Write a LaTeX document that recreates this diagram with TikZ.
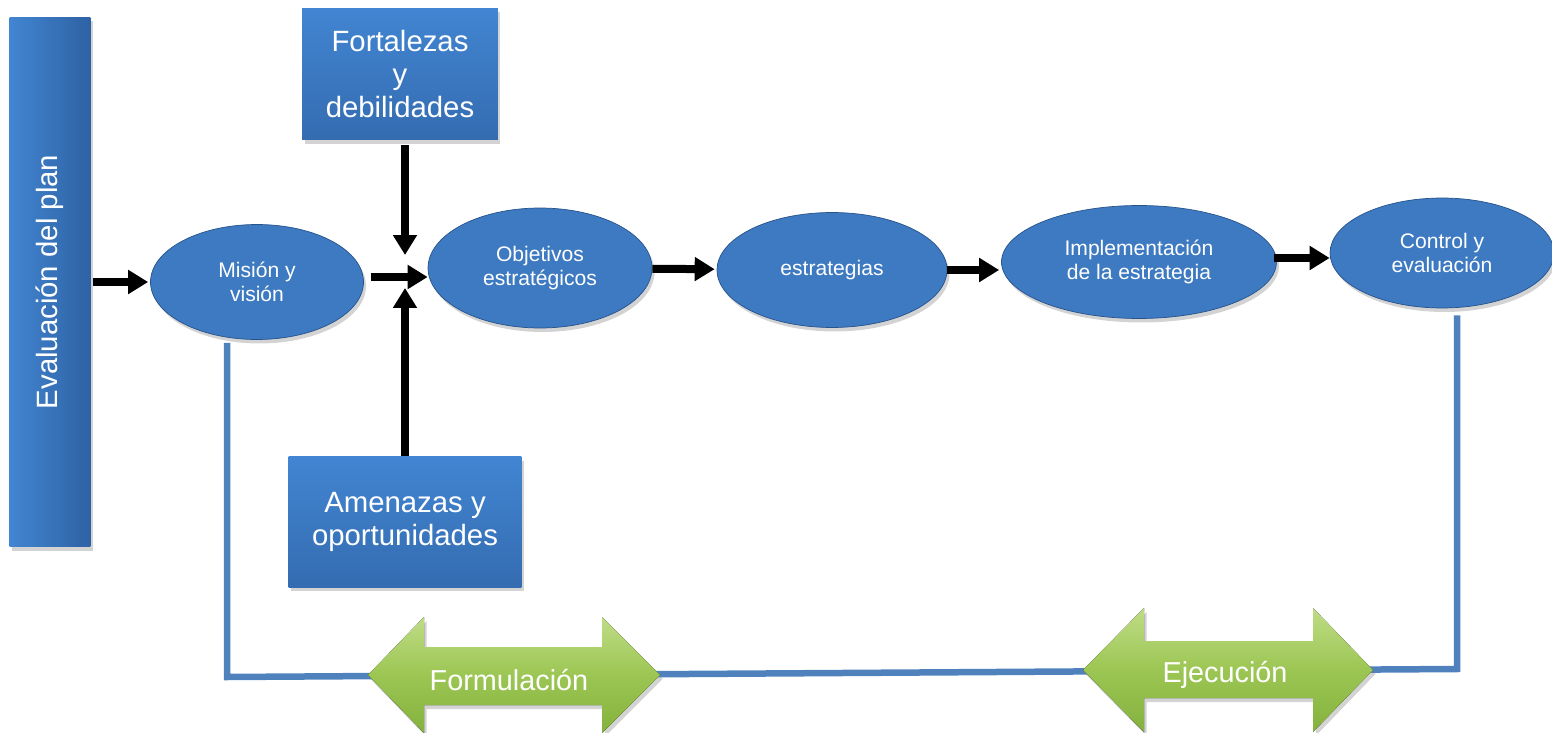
\documentclass[tikz,border=0pt]{standalone}
\usepackage{fontspec}
\setmainfont{Liberation Sans}
\usetikzlibrary{shapes.geometric, arrows.meta, positioning, calc, shadows}

\definecolor{azul_claro}{HTML}{4285D2}
\definecolor{azul_medio}{HTML}{3A78C4}
\definecolor{azul_oscuro}{HTML}{2E62A3}
\definecolor{azul_linea}{HTML}{4F81BD}
\definecolor{verde_claro}{HTML}{BFDC86}
\definecolor{verde_medio}{HTML}{9CC653}
\definecolor{verde_oscuro}{HTML}{84B13D}

\pgfdeclareradialshading{relleno_elipse}{\pgfpoint{0bp}{0bp}}{%
    color(0bp)=(azul_claro!92!black); color(34bp)=(azul_claro!92!black);
    color(44bp)=(azul_medio); color(50bp)=(azul_oscuro); color(60bp)=(azul_oscuro)}

\begin{document}
\begin{tikzpicture}[
    x=0.02cm, y=-0.02cm,
    % estilos
    sombra/.style={drop shadow={opacity=0.35, shadow xshift=0.05cm, shadow yshift=-0.08cm}},
    barra_lateral/.style={
        left color=azul_claro, right color=azul_oscuro, sombra
    },
    caja_azul/.style={
        top color=azul_claro, bottom color=azul_medio!90!black,
        align=center, text=white, font=\fontsize{16.7}{19}\selectfont, sombra
    },
    elipse_azul/.style={
        ellipse, shading=relleno_elipse, draw=azul_oscuro!85!black,
        align=center, text=white, font=\fontsize{12}{14}\selectfont, sombra
    },
    flecha_negra/.style={
        -{Triangle[width=0.46cm, length=0.4cm]}, line width=0.16cm, black
    },
    linea_retorno/.style={
        draw=azul_linea, line width=0.13cm
    },
    flecha_verde/.style={
        top color=verde_claro, bottom color=verde_oscuro, middle color=verde_medio, sombra
    },
    texto_blanco/.style={
        text=white, font=\fontsize{16.4}{19}\selectfont
    }
]

    \useasboundingbox (0,0) rectangle (1552,733);

    % --- 1. BARRA LATERAL ---
    \node[barra_lateral, minimum width=1.62cm, minimum height=10.6cm] (barra) at (50,282) {};
    \node[texto_blanco, rotate=90, font=\fontsize{16.7}{19}\selectfont] (titulo) at (barra.center) {Evaluación del plan};

    % --- 2. CAJAS DEL ANALISIS ---
    \node[caja_azul, minimum width=3.92cm, minimum height=2.64cm] (fortalezas) at (400,74) {Fortalezas\\y\\debilidades};
    \node[caja_azul, minimum width=4.66cm, minimum height=2.62cm] (amenazas) at (405,522) {Amenazas y\\oportunidades};

    % --- 3. PROCESO ---
    \node[elipse_azul, minimum width=4.26cm, minimum height=2.30cm] (mision) at (257,282) {Misión y\\visión};
    \node[elipse_azul, minimum width=4.48cm, minimum height=2.40cm] (objetivos) at (540,268) {Objetivos\\estratégicos};
    \node[elipse_azul, minimum width=4.60cm, minimum height=2.30cm] (estrategias) at (832,270) {estrategias};
    \node[elipse_azul, minimum width=5.50cm, minimum height=2.26cm] (implementacion) at (1139,262) {Implementación\\de la estrategia};
    \node[elipse_azul, minimum width=4.48cm, minimum height=2.20cm] (control) at (1442,253) {Control y\\evaluación};

    % Flechas del proceso
    \coordinate (cruce) at (405,277);
    \draw[flecha_negra, shorten <=0.04cm, shorten >=0.04cm] (barra) -- (mision);
    \draw[flecha_negra, shorten <=0.14cm] (mision.east |- cruce) -- (objetivos.west |- cruce);
    \draw[flecha_negra, shorten <=0.1cm, shorten >=0.44cm] (fortalezas.south -| cruce) -- (cruce);
    \draw[flecha_negra, shorten >=0.22cm] (amenazas.north -| cruce) -- (cruce);
    \draw[flecha_negra, shorten >=0.04cm] (objetivos) -- (estrategias);
    \draw[flecha_negra, shorten >=0.04cm] (estrategias.east) -- (implementacion.west |- estrategias.east);
    \draw[flecha_negra, shorten <=0.06cm] ($(implementacion.east |- control.west)+(-6,5)$) -- ($(control.west)+(0,5)$);

    % --- 4. LINEA DE RETORNO ---
    \coordinate (esq_izq) at (227,677);
    \coordinate (esq_der) at (1457,669);
    \draw[linea_retorno] ($(mision.south)+(-30,3)$) -- (esq_izq) -- (esq_der) -- ($(esq_der |- control.south)+(0,7)$);

    % --- 5. FASES ---
    \fill[flecha_verde] (368,675) -- (424,617) -- (424,647) -- (602,647) -- (602,617) -- (660,675)
        -- (602,733) -- (602,705) -- (424,705) -- (424,733) -- cycle;
    \node[texto_blanco] (formulacion) at (509,680) {Formulación};

    \fill[flecha_verde] (1083,670) -- (1144,608) -- (1144,641) -- (1313,641) -- (1313,608) -- (1373,670)
        -- (1313,732) -- (1313,698) -- (1144,698) -- (1144,732) -- cycle;
    \node[texto_blanco] (ejecucion) at (1225,675) {Ejecución};

\end{tikzpicture}
\end{document}
